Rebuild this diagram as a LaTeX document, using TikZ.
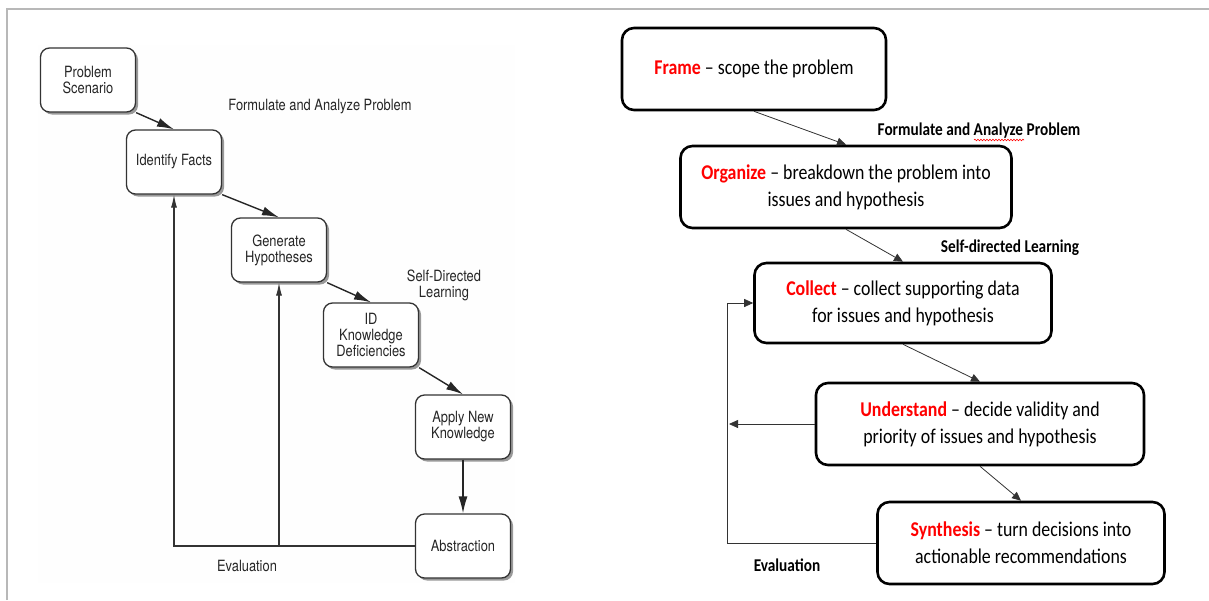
\documentclass[tikz,border=0pt]{standalone}
\usepackage{fontspec}
\usepackage{xcolor}
\usepackage{tikz}
\usetikzlibrary{arrows.meta,shadows,decorations.pathmorphing}
\newfontfamily\calibfont[FakeStretch=0.85]{Carlito}
\newfontfamily\helvfont[FakeStretch=0.83]{TeX Gyre Heros}
\newcommand{\phase}[1]{\textcolor{red}{\textbf{#1}}}

\begin{document}
\begin{tikzpicture}[
  x=1pt, y=-1pt,
  oldbox/.style={draw=black!80, line width=1.3pt, fill=white, rounded corners=9pt,
    minimum width=95pt, minimum height=64pt, align=center, text=black!85,
    font=\helvfont\fontsize{15.5}{16}\selectfont,
    drop shadow={shadow xshift=2.5pt, shadow yshift=-2.5pt, fill=black!40, opacity=1}},
  oldlabel/.style={text=black!85, align=center, font=\helvfont\fontsize{15.5}{16}\selectfont},
  oldarrow/.style={draw=black!85, line width=1.4pt, -{Latex[length=17pt,width=9pt]}},
  backarrow/.style={draw=black!80, line width=1.1pt, -{Latex[length=13pt,width=6pt]}},
  newbox/.style={draw=black, line width=2.6pt, rounded corners=12pt, minimum height=82pt,
    align=center, font=\calibfont\fontsize{21}{27}\selectfont},
  newlabel/.style={font=\calibfont\bfseries\fontsize{18}{20}\selectfont},
  newarrow/.style={draw=black!80, line width=0.8pt, -{Triangle[length=9pt,width=8pt]}}]

\useasboundingbox (0,0) rectangle (1209,600);
\fill[white] (0,0) rectangle (1209,600);
\fill[black!0.5] (38,45) rectangle (515,583);
\draw[black!28, line width=2pt] (7,600) -- (7,9) -- (1209,9);

% old process (scan)
\node[oldbox] (scenario) at (88,80) {Problem\\Scenario};
\node[oldbox] (facts) at (174,162) {Identify Facts};
\node[oldbox] (hypo) at (279,250) {Generate\\Hypotheses};
\node[oldbox] (deficit) at (371,335) {ID\\Knowledge\\Deficiencies};
\node[oldbox] (apply) at (463,427) {Apply New\\Knowledge};
\node[oldbox] (abstr) at (463,546) {Abstraction};

\node[oldlabel] (formL) at (320,107) {Formulate and Analyze Problem};
\node[oldlabel] (selfL) at (444,285) {Self-Directed\\Learning};
\node[oldlabel] (evalL) at (247,566) {Evaluation};

\draw[oldarrow] (scenario.south east) -- (facts.north);
\draw[oldarrow] (facts.south east) -- (hypo.north);
\draw[oldarrow] (hypo.south east) -- (deficit.north);
\draw[oldarrow] (deficit.south east) -- (apply.north);
\draw[oldarrow] (apply.south) -- (abstr.north);
\draw[backarrow] (abstr.west) -| (facts.south);
\draw[backarrow] (hypo.south |- abstr.west) -- (hypo.south);

% new process
\node[newbox, minimum width=264pt] (frame) at (754,69) {\phase{Frame} – scope the problem};
\node[newbox, minimum width=331pt] (organize) at (846,187) {\phase{Organize} – breakdown the problem into\\issues and hypothesis};
\node[newbox, minimum width=297pt, minimum height=80pt] (collect) at (903,303) {\phase{Collect} – collect supporting data\\for issues and hypothesis};
\node[newbox, minimum width=328pt] (understand) at (980,424) {\phase{Understand} – decide validity and\\priority of issues and hypothesis};
\node[newbox, minimum width=287pt] (synthesis) at (1021,543) {\phase{Synthesis} – turn decisions into\\actionable recommendations};

\node[newlabel] (formR) at (979,131) {Formulate and Analyze Problem};
\node[newlabel] (selfR) at (1010,248) {Self-directed Learning};
\node[newlabel] (evalR) at (787,565) {Evaluation};
\draw[red, line width=0.6pt, decorate, decoration={snake, amplitude=0.8pt, segment length=3pt}] (974,140) -- (1024,140);

\draw[newarrow] (frame.south) -- (organize.north);
\draw[newarrow] (organize.south) -- (collect.north);
\draw[newarrow] (collect.south) -- (understand.north);
\draw[newarrow] (understand.south) -- (synthesis.north);
\coordinate (loop) at (727,424);
\draw[newarrow] (synthesis.west) -| (loop) |- (collect.west);
\draw[newarrow] (understand.west) -- ([xshift=2pt]loop);
\end{tikzpicture}
\end{document}
